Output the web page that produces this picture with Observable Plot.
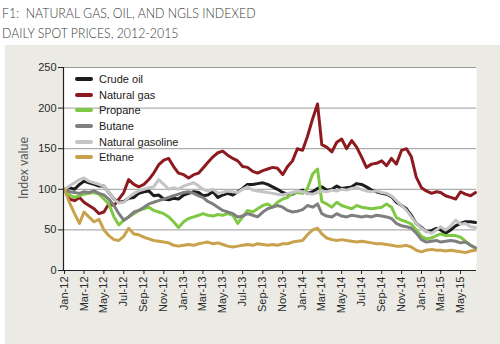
<!DOCTYPE html>
<html>
<head>
<meta charset="utf-8">
<script src="https://cdn.jsdelivr.net/npm/d3@7"></script>
<script src="https://cdn.jsdelivr.net/npm/@observablehq/plot@0.6"></script>
<style>
  body { margin:0; background:#ffffff; }
  #wrap { position:relative; width:500px; height:344px; overflow:hidden; background:#ffffff; }
  #title { position:absolute; left:2px; top:3px; font-family:Lato, "Open Sans", sans-serif; font-weight:300; font-size:14px; line-height:19.5px; color:#3a3a3a; letter-spacing:0px; white-space:pre; transform:scaleX(0.88); transform-origin:0 0; }
  #panel { position:absolute; left:5px; top:45px; width:495px; height:299px; background:#ebeae4; }
  #ylabel { position:absolute; left:23px; top:168px; transform:translate(-50%,-50%) rotate(-90deg); font-family:Lato, sans-serif; font-size:12.5px; color:#555; white-space:nowrap; }
  #legend { position:absolute; left:75px; top:71px; font-family:"Liberation Sans", Arial, sans-serif; font-size:11px; color:#1a1a1a; }
  .row { position:relative; height:15.7px; }
  .sw { position:absolute; left:0; top:6px; width:18px; height:4px; border-radius:2px; }
  .lb { position:absolute; left:24px; top:0; line-height:16px; white-space:nowrap; }
</style>
</head>
<body>
<div id="wrap">
  <div id="title">F1:  NATURAL GAS, OIL, AND NGLS INDEXED
DAILY SPOT PRICES, 2012-2015</div>
  <div id="panel"></div>
  <div id="ylabel">Index value</div>
  <div id="legend"></div>
</div>
<script>
// Series names and colours
const seriesNames = ["Crude oil", "Natural gas", "Propane", "Butane", "Natural gasoline", "Ethane"];
const seriesColors = ["#1c1c1c", "#8c1a1f", "#7ec843", "#7f7f7f", "#c4c4c4", "#c9a24d"];

// Sample dates: 1st and 16th of each month, Jan 2012 – Jun 2015
const sampleYears = [2012, 2013, 2014, 2015];
const sampleDays = [1, 16];

// Index values (Jan 2012 = 100), semi-monthly
const crudeOil = [100,102,100,106,110,108,106,104,104,96,
  88,84,85,89,90,95,97,98,92,93,
  88,87,89,88,93,95,97,96,92,93,
  97,90,93,95,93,97,101,106,106,107,
  108,106,103,100,96,94,94,97,99,95,
  97,101,103,99,100,104,101,102,103,107,
  106,103,99,97,95,94,91,84,80,76,
  68,58,53,48,49,52,50,46,50,55,
  58,60,60,59];
const naturalGas = [100,88,86,90,84,80,76,70,72,82,
  80,88,96,112,106,103,106,112,120,130,
  136,138,128,120,118,114,118,120,126,133,
  140,145,147,142,138,135,128,127,122,120,
  123,125,127,126,118,128,135,150,148,165,
  187,205,155,152,146,158,162,150,160,152,
  140,127,131,132,135,129,138,131,148,150,
  140,115,102,98,95,97,96,92,90,88,
  97,94,92,96];
const propane = [100,93,90,92,94,95,96,94,88,82,
  66,56,62,66,70,74,76,78,74,72,
  70,66,60,53,60,64,66,68,70,68,
  67,69,68,70,68,58,66,74,72,76,
  80,82,78,84,88,90,95,96,95,101,
  119,125,85,82,78,84,80,78,76,80,
  78,77,76,77,78,82,78,65,62,60,
  57,50,42,39,40,43,45,43,43,43,
  41,36,31,27];
const butane = [100,97,96,95,97,96,98,95,93,88,
  80,70,62,66,72,74,78,82,84,86,
  88,90,92,94,96,97,95,92,90,85,
  82,78,74,72,70,66,67,70,68,66,
  72,76,78,80,78,74,72,73,75,80,
  78,82,70,67,66,70,67,66,68,67,
  66,67,66,68,67,66,64,58,55,54,
  52,46,38,35,36,37,35,36,37,36,
  34,35,31,28];
const naturalGasoline = [100,104,108,112,114,110,108,106,104,96,
  88,83,84,90,95,98,100,102,103,112,
  106,100,102,100,104,106,108,104,100,98,
  100,95,96,98,97,96,100,103,99,98,
  97,96,95,94,93,95,96,98,97,95,
  94,96,98,97,99,98,100,99,101,102,
  100,98,97,98,96,95,92,86,80,74,
  66,58,52,48,46,50,54,50,55,62,
  57,58,54,53];
const ethane = [100,84,70,58,72,66,60,63,50,43,
  38,37,42,52,45,44,41,39,37,36,
  35,34,31,30,31,32,31,33,34,35,
  33,34,32,30,29,30,31,32,31,33,
  32,31,32,31,33,33,35,36,37,44,
  50,52,45,40,38,37,38,37,36,35,
  36,35,34,33,33,32,31,30,30,31,
  29,25,23,25,26,25,25,24,25,24,
  23,22,24,25];

// Axis ticks
const yTicks = [0, 50, 100, 150, 200, 250];
const xTickStart = [2012, 0];
const xTickEnd = [2015, 5];

// ---- build ----
const dates = [];
for (const y of sampleYears) {
  const lastMonth = y === 2015 ? 5 : 11;
  for (let m = 0; m <= lastMonth; m++) for (const d of sampleDays) dates.push(new Date(Date.UTC(y, m, d)));
}
const seriesValues = [crudeOil, naturalGas, propane, butane, naturalGasoline, ethane];
const rows = seriesValues.flatMap((vals, s) => vals.map((v, i) => ({date: dates[i], value: v, name: seriesNames[s]})));

const xDomain = [new Date(Date.UTC(2011, 11, 29)), new Date(Date.UTC(2015, 5, 19))];
const xTicks = d3.utcMonth.every(2).range(new Date(Date.UTC(...xTickStart, 1)), new Date(Date.UTC(...xTickEnd, 1)));
const fmt = d3.utcFormat("%b-%y");

const chart = Plot.plot({
  width: 495,
  height: 299,
  marginLeft: 58,
  marginRight: 24,
  marginTop: 22,
  marginBottom: 74,
  style: {background: "transparent", fontFamily: "'Liberation Sans', Arial, sans-serif", fontSize: "11px", color: "#2a2a2a", overflow: "visible"},
  x: {type: "utc", domain: xDomain},
  y: {domain: [0, 250]},
  color: {domain: seriesNames, range: seriesColors},
  marks: [
    Plot.frame({fill: "white", stroke: "none"}),
    Plot.gridY(yTicks.filter(t => t > 0), {stroke: "#9a9a9a", strokeOpacity: 1}),
    Plot.lineY(rows, {x: "date", y: "value", z: "name", stroke: "name", strokeWidth: 3, strokeLinejoin: "round", strokeLinecap: "round"}),
    Plot.ruleX([xDomain[0]], {stroke: "#222", strokeWidth: 1.2}),
    Plot.ruleY([0], {stroke: "#222", strokeWidth: 1.2}),
    Plot.axisY(yTicks, {tickSize: 5, tickPadding: 2, label: null, fontSize: 11, stroke: "#222"}),
    Plot.axisX(xTicks, {tickFormat: fmt, tickRotate: -90, tickSize: 4, tickPadding: 2, label: null, fontSize: 11, stroke: "#222"})
  ]
});
document.getElementById("panel").appendChild(chart);

// legend
const legend = document.getElementById("legend");
seriesNames.forEach((n, i) => {
  const row = document.createElement("div");
  row.className = "row";
  row.innerHTML = `<div class="sw" style="background:${seriesColors[i]}"></div><div class="lb">${n}</div>`;
  legend.appendChild(row);
});
</script>
</body>
</html>
